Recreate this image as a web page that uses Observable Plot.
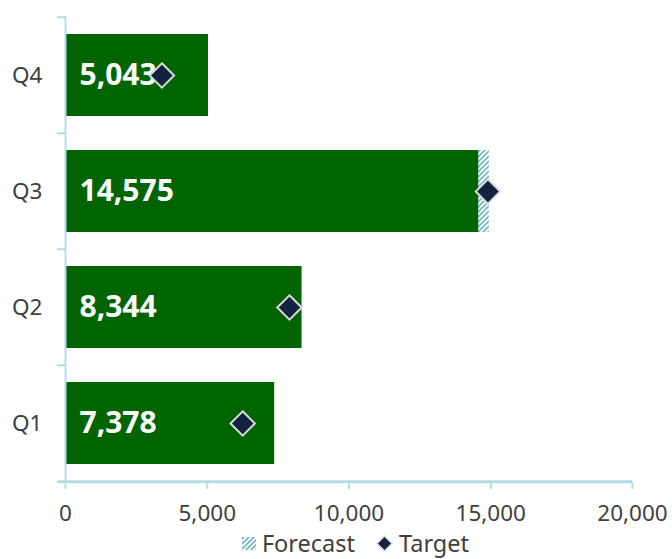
<!DOCTYPE html>
<html>
<head>
<meta charset="utf-8">
<script src="https://cdn.jsdelivr.net/npm/d3@7"></script>
<script src="https://cdn.jsdelivr.net/npm/@observablehq/plot@0.6"></script>
<style>
  html, body { margin: 0; padding: 0; background: #fff; }
  #wrap { width: 672px; font-family: "Noto Sans", "Open Sans", sans-serif; }
  #chart svg { display: block; }
  #legend { display: flex; justify-content: center; align-items: center; height: 30px; font-size: 23.5px; color: #404040; line-height: 30px; padding-left: 38px; }
  #legend .item { display: flex; align-items: center; margin: 0 10px; }
  #legend svg { margin-right: 5px; }
</style>
</head>
<body>
<div id="wrap">
  <div id="chart"></div>
  <div id="legend"></div>
</div>
<script>
const categories = ["Q4", "Q3", "Q2", "Q1"];
const actual = [5043, 14575, 8344, 7378];
const forecast = [4950, 14950, 8100, 7000];
const target = [3400, 14900, 7900, 6250];
const xTicks = [0, 5000, 10000, 15000, 20000];

const data = categories.map((q, i) => ({q, actual: actual[i], forecast: forecast[i], target: target[i]}));

const W = 672, H = 528, mT = 16, mB = 46, mL = 65, mR = 40;
const step = (H - mT - mB) / categories.length;
const axisColor = "#b5dbe5";
const pxToX = 20000 / (W - mL - mR);

const chart = Plot.plot({
  width: W,
  height: H,
  marginTop: mT,
  marginBottom: mB,
  marginLeft: mL,
  marginRight: mR,
  style: {fontFamily: "'Noto Sans', 'Open Sans', sans-serif", fontSize: "22px", color: "#404040", background: "#fff"},
  x: {domain: [0, 20000], ticks: xTicks},
  y: {domain: categories, paddingInner: 0.29, paddingOuter: 0.145},
  marks: [
    Plot.barX(data, {x: "forecast", y: "q", fill: "url(#hatch)"}),
    Plot.barX(data, {x: "actual", y: "q", fill: "#006400"}),
    Plot.ruleX([0], {stroke: axisColor, strokeWidth: 2}),
    Plot.ruleY([0], {y: () => categories[categories.length - 1], x1: -8 * pxToX, x2: 20000, stroke: axisColor, strokeWidth: 3, dy: step / 2}),
    Plot.ruleY(categories, {y: d => d, x1: -8 * pxToX, x2: 0, stroke: axisColor, strokeWidth: 2, dy: -step / 2}),
    Plot.axisX({ticks: xTicks, tickSize: 7, tickPadding: 16, stroke: axisColor, strokeWidth: 2, tickFormat: d3.format(","), fontSize: 22.5, fill: "#404040", label: null}),
    Plot.axisY({tickSize: 0, tickPadding: 23, fontSize: 22.5, fill: "#404040", label: null}),
    Plot.text(data, {x: 0, y: "q", text: d => d3.format(",")(d.actual), textAnchor: "start", dx: 14, fill: "#fff", fontWeight: "bold", fontSize: 30}),
    Plot.dot(data, {x: "target", y: "q", symbol: "diamond2", r: 11, fill: "#13223f", stroke: "#d9d9d9", strokeWidth: 2})
  ]
});

// hatch pattern
const defs = d3.select(chart).insert("defs", ":first-child");
const pat = defs.append("pattern").attr("id", "hatch").attr("patternUnits", "userSpaceOnUse")
  .attr("width", 5).attr("height", 5);
pat.append("rect").attr("width", 5).attr("height", 5).attr("fill", "#fff");
pat.append("path").attr("d", "M-1,1 l2,-2 M0,5 l5,-5 M4,6 l2,-2").attr("stroke", "#72b3c6").attr("stroke-width", 1.6);

document.getElementById("chart").appendChild(chart);

// legend
const legend = d3.select("#legend");
const it1 = legend.append("div").attr("class", "item");
const s1 = it1.append("svg").attr("width", 16).attr("height", 16);
const d1 = s1.append("defs").append("pattern").attr("id", "hatchL").attr("patternUnits", "userSpaceOnUse").attr("width", 5).attr("height", 5);
d1.append("rect").attr("width", 5).attr("height", 5).attr("fill", "#fff");
d1.append("path").attr("d", "M-1,1 l2,-2 M0,5 l5,-5 M4,6 l2,-2").attr("stroke", "#72b3c6").attr("stroke-width", 1.6);
s1.append("rect").attr("x", 1).attr("y", 2).attr("width", 14).attr("height", 13).attr("fill", "url(#hatchL)");
it1.append("span").text("Forecast");
const it2 = legend.append("div").attr("class", "item");
const s2 = it2.append("svg").attr("width", 19).attr("height", 19);
s2.append("path").attr("d", "M9.5,2 L17,9.5 L9.5,17 L2,9.5 Z").attr("fill", "#13223f").attr("stroke", "#d9d9d9").attr("stroke-width", 1.5);
it2.append("span").text("Target");
</script>
</body>
</html>
